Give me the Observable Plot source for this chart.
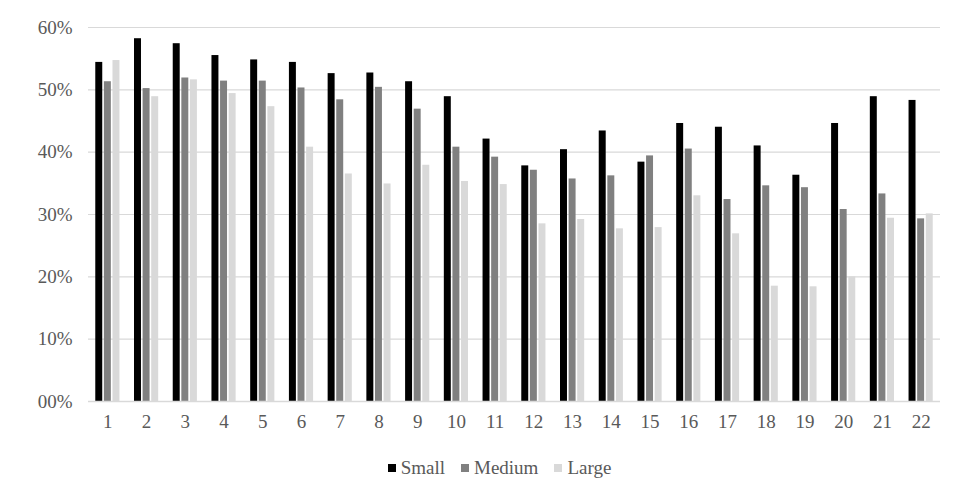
<!DOCTYPE html>
<html>
<head>
<meta charset="utf-8">
<script src="https://cdn.jsdelivr.net/npm/d3@7"></script>
<script src="https://cdn.jsdelivr.net/npm/@observablehq/plot@0.6"></script>
<style>
  html, body { margin: 0; padding: 0; background: #fff; }
  #chart svg { display: block; }
  #chart svg text { font-family: "Liberation Serif", "Times New Roman", Tinos, "DejaVu Serif", serif; }
  .legend { display: flex; justify-content: center; align-items: center; margin-top: 12px; padding-left: 22px;
    font-family: "Liberation Serif", "Times New Roman", Tinos, "DejaVu Serif", serif; font-size: 19px; color: #595959; line-height: 22px; }
  .legend .item { display: flex; align-items: center; margin-right: 16px; }
  .legend .item:last-child { margin-right: 0; }
  .legend .sw { width: 8px; height: 8px; margin-right: 5px; }
</style>
</head>
<body>
<div id="chart"></div>
<div class="legend" id="legend"></div>
<script>
const categories = ["1","2","3","4","5","6","7","8","9","10","11","12","13","14","15","16","17","18","19","20","21","22"];
const series = ["Small", "Medium", "Large"];
const colors = ["#000000", "#808080", "#d9d9d9"];
const small  = [54.4, 58.2, 57.4, 55.5, 54.8, 54.4, 52.6, 52.7, 51.3, 48.9, 42.1, 37.8, 40.4, 43.4, 38.4, 44.6, 44.0, 41.0, 36.3, 44.6, 48.9, 48.3];
const medium = [51.3, 50.2, 51.9, 51.4, 51.4, 50.3, 48.4, 50.4, 46.9, 40.8, 39.2, 37.1, 35.7, 36.2, 39.4, 40.5, 32.4, 34.6, 34.3, 30.8, 33.3, 29.3];
const large  = [54.7, 48.9, 51.6, 49.4, 47.3, 40.8, 36.5, 34.9, 37.9, 35.3, 34.8, 28.5, 29.2, 27.7, 27.9, 33.0, 26.9, 18.5, 18.4, 20.0, 29.4, 30.1];
const yTicks = [0, 10, 20, 30, 40, 50, 60];

const seriesValues = [small, medium, large];
const rows = categories.flatMap((c, i) => series.map((s, j) => ({cat: c, size: s, value: seriesValues[j][i]})));

const chart = Plot.plot({
  width: 977,
  height: 445,
  marginLeft: 88,
  marginRight: 37,
  marginTop: 27,
  marginBottom: 44,
  style: {fontFamily: "Liberation Serif, Times New Roman, Tinos, DejaVu Serif, serif", fontSize: "19px", color: "#595959", background: "#fff"},
  x: {domain: categories, paddingInner: 0.82, paddingOuter: 0.41, round: false, label: null, tickSize: 0, tickPadding: 13},
  y: {domain: [0, 60], ticks: yTicks, tickFormat: d => String(d).padStart(2, "0") + "%", tickSize: 0, tickPadding: 16, label: null},
  color: {domain: series, range: colors},
  marks: [
    Plot.ruleY(yTicks.filter(d => d > 0), {stroke: "#d9d9d9", strokeWidth: 1.2}),
    ...series.map((s, j) => Plot.barY(rows.filter(r => r.size === s), {x: "cat", y: "value", fill: "size", dx: (j - 1) * 8.6})),
    Plot.ruleY([0], {stroke: "#d9d9d9", strokeWidth: 1.5})
  ]
});
document.getElementById("chart").append(chart);

const legend = document.getElementById("legend");
series.forEach((s, j) => {
  const item = document.createElement("div");
  item.className = "item";
  const sw = document.createElement("span");
  sw.className = "sw";
  sw.style.background = colors[j];
  const label = document.createElement("span");
  label.textContent = s;
  item.append(sw, label);
  legend.append(item);
});
</script>
</body>
</html>
